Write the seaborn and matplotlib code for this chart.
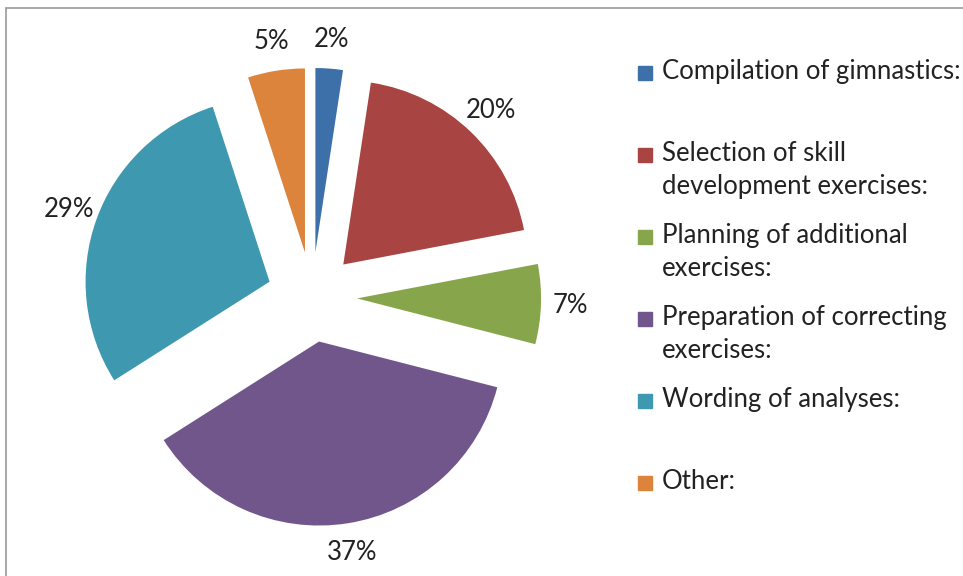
import matplotlib
matplotlib.use("Agg")
import matplotlib.pyplot as plt
import matplotlib.patches as mpatches
import seaborn as sns

# data (slice angles)
categories = [
    "Compilation of gimnastics:",
    "Selection of skill\ndevelopment exercises:",
    "Planning of additional\nexercises:",
    "Preparation of correcting\nexercises:",
    "Wording of analyses:",
    "Other:",
]
shares = [2.4, 19.6, 7, 37, 29, 5]
colors = ["#3D70A8", "#A84441", "#87A64B", "#71568C", "#3E99B0", "#DC843B"]

sns.set_theme(style="white")
plt.rcParams["font.family"] = ["Lato", "DejaVu Sans"]

W, H = 963, 576
fig = plt.figure(figsize=(W / 100, H / 100), dpi=100)
ax = fig.add_axes([0, 0, 1, 1])

# pie centre in pixels and radius
cx, cy, r = 312, 297, 184
wedges, texts, autotexts = ax.pie(
    shares,
    colors=colors,
    startangle=90,
    counterclock=False,
    explode=[0.245] * len(shares),
    autopct="%.0f%%",
    pctdistance=1.16,
    wedgeprops=dict(linewidth=0),
    textprops=dict(fontsize=18.5, color="#222222"),
)
ax.set_xlim(-cx / r, (W - cx) / r)
ax.set_ylim(-(H - cy) / r, cy / r)
ax.set_aspect("auto")
ax.axis("off")

# frame (top and left edges visible)
def fx(px):
    return px / W

def fy(py):
    return 1 - py / H

fig.add_artist(plt.Line2D([fx(6), 1], [fy(8), fy(8)], color="#9a9a9a", lw=1.2, transform=fig.transFigure))
fig.add_artist(plt.Line2D([fx(6), fx(6)], [fy(8), 0], color="#9a9a9a", lw=1.2, transform=fig.transFigure))

# legend drawn by hand to match the spacing
y0, step = 73, 82
for i, (lab, col) in enumerate(zip(categories, colors)):
    yc = y0 + i * step
    fig.add_artist(mpatches.Rectangle((fx(638), fy(yc + 7)), 14 / W, 14 / H,
                                      color=col, transform=fig.transFigure))
    fig.text(fx(662), fy(yc - 14), lab, fontsize=18.5, color="#222222",
             va="top", ha="left", linespacing=1.42)

fig.savefig("out.png", dpi=100)
